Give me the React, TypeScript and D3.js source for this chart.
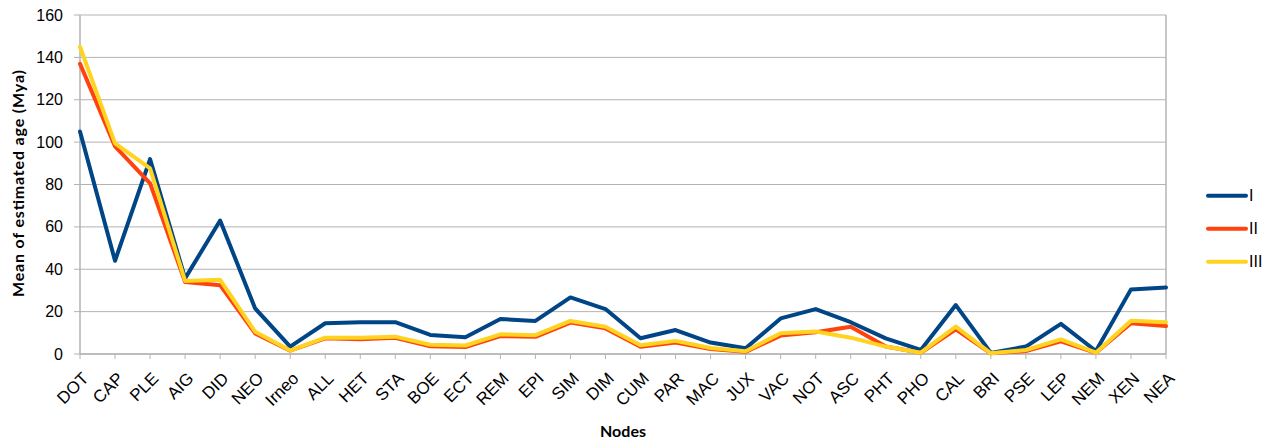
import React from "react";
import * as d3 from "d3";

const categories = ["DOT","CAP","PLE","AIG","DID","NEO","Irneo","ALL","HET","STA","BOE","ECT","REM","EPI","SIM","DIM","CUM","PAR","MAC","JUX","VAC","NOT","ASC","PHT","PHO","CAL","BRI","PSE","LEP","NEM","XEN","NEA"];
const seriesI = [105,44,92,35.7,63,21.5,3.5,14.5,15,15,9,7.9,16.5,15.6,26.7,21.2,7.4,11.3,5.4,2.7,16.8,21.2,15,7.4,1.9,23.1,0.5,3.5,14.2,1.4,30.5,31.4];
const seriesII = [137,98,80.5,34,32.5,9.7,1.6,7.4,7,7.7,3.6,3.3,8.5,8.1,14.8,12.1,3.4,5.4,2.3,1,8.7,10.3,12.9,3.5,0.6,11.6,0.3,1.4,6,0.6,14.5,13.2];
const seriesIII = [145,99.4,87.6,34.5,35,10.5,1.6,7.7,7.7,8.2,4.4,4,9.3,8.9,15.6,12.9,4.1,6.2,2.8,1.3,9.8,10.6,7.7,3.5,0.6,12.9,0.3,1.9,6.9,0.6,15.7,15];
const seriesNames = ["I","II","III"];
const colors = ["#004586","#ff420e","#ffd320"];
const yTicks = [0,20,40,60,80,100,120,140,160];

const W = 1279, H = 445;
const L = 80, R = 1166, T = 15, B = 354;
const FONT = "'Liberation Sans', Arial, sans-serif";
const TITLE_FONT = "Lato, 'Open Sans', sans-serif";

export default function App() {
  const x = d3.scalePoint<string>().domain(categories).range([L, R]);
  const y = d3.scaleLinear().domain([0, 160]).range([B, T]);
  const all = [seriesI, seriesII, seriesIII];
  const line = d3.line<number>().x((_, i) => x(categories[i]) as number).y(d => y(d));
  return (
    <svg width={W} height={H} style={{ position: "absolute", left: 0, top: 0, background: "#fff" }} fontFamily={FONT}>
      {yTicks.map(t => (
        <g key={t}>
          <line x1={L - 6} x2={R} y1={y(t)} y2={y(t)} stroke="#b3b3b3" strokeWidth={1} />
          <text x={63} y={y(t)} dy="0.35em" textAnchor="end" fontSize={16} fill="#000">{t}</text>
        </g>
      ))}
      <line x1={L} x2={L} y1={T} y2={B} stroke="#b3b3b3" strokeWidth={1.5} />
      <line x1={R} x2={R} y1={T} y2={B} stroke="#b3b3b3" strokeWidth={1.5} />
      <line x1={L} x2={R} y1={B} y2={B} stroke="#b3b3b3" strokeWidth={1.5} />
      {categories.map(c => (
        <g key={c}>
          <line x1={x(c)} x2={x(c)} y1={B} y2={B + 5} stroke="#b3b3b3" strokeWidth={1} />
          <text transform={`translate(${(x(c) as number) + 9.5},${B + 25.5}) rotate(-45)`} textAnchor="end" fontSize={17} fill="#000">{c}</text>
        </g>
      ))}
      {all.map((s, i) => (
        <path key={i} d={line(s) || ""} fill="none" stroke={colors[i]} strokeWidth={4} strokeLinejoin="round" strokeLinecap="round" />
      ))}
      {seriesNames.map((n, i) => {
        const ly = 195.7 + i * 33;
        return (
          <g key={n}>
            <line x1={1208} x2={1246} y1={ly} y2={ly} stroke={colors[i]} strokeWidth={4} strokeLinecap="round" />
            <text x={1249} y={ly} dy="0.36em" fontSize={16} fill="#000">{n}</text>
          </g>
        );
      })}
      <text transform={`translate(24,183.5) rotate(-90)`} textAnchor="middle" fontSize={16} fontWeight="bold" fontFamily={TITLE_FONT} textLength={227} lengthAdjust="spacing" fill="#000">Mean of estimated age (Mya)</text>
      <text x={623} y={437} textAnchor="middle" fontSize={16} fontWeight="bold" fontFamily={TITLE_FONT} fill="#000">Nodes</text>
    </svg>
  );
}
